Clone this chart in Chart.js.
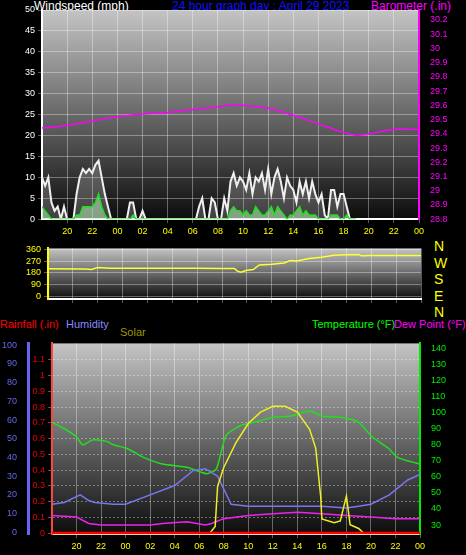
<!DOCTYPE html>
<html>
<head>
<meta charset="utf-8">
<script src="https://cdn.jsdelivr.net/npm/chart.js@4.4.0/dist/chart.umd.min.js"></script>
<style>
body { margin:0; background:#000; width:466px; height:555px; overflow:hidden; position:relative; font-family:"Liberation Sans", Arial, sans-serif; }
canvas { position:absolute; left:0; }
.lbl { position:absolute; font-size:11px; white-space:nowrap; }
</style>
</head>
<body>
<div class="lbl" style="left:34px;top:-1px;color:#fff;font-size:12px">Windspeed (mph)</div>
<div class="lbl" style="left:172px;top:-1px;color:#1010ff;font-size:12px">24 hour graph day : April 29 2023</div>
<div class="lbl" style="left:371px;top:-1px;color:#ff00ff;font-size:12px">Barometer (.in)</div>
<div class="lbl" style="left:0px;top:318px;color:#ff0000">Rainfall (.in)</div>
<div class="lbl" style="left:66px;top:318px;color:#8888ff">Humidity</div>
<div class="lbl" style="left:120px;top:326px;color:#999900">Solar</div>
<div class="lbl" style="left:312px;top:318px;color:#00ff00">Temperature (°F)</div>
<div class="lbl" style="left:394px;top:318px;color:#ff00ff">Dew Point (°F)</div>
<div class="lbl" style="left:434px;top:238px;color:#ffff00;font-size:14px;line-height:16.5px">N<br>W<br>S<br>E<br>N</div>

<canvas id="windChart" width="466" height="240" style="top:0"></canvas>
<canvas id="dirChart" width="466" height="75" style="top:240px"></canvas>
<canvas id="tempChart" width="466" height="220" style="top:335px"></canvas>

<script>
// ----- data (hours since 18:00 on Apr 28) -----
// wind, every 15 minutes from hour 0 to hour 25
const windGust = [10,8,10,4, 2,3,0,3, 0,0,0,6, 10,12,11,12, 11,13,14,10, 6,3,0,0, 0,0,0,0, 4,4,0,0, 2,0,0,0,
  0,0,0,0, 0,0,0,0, 0,0,0,0, 0,0,3,5, 0,0,5,4, 0,0,5,2, 9,11,8,10, 9,7,11,6, 10,9,11,7, 12,6,10,12,
  9,5,10,8, 7,4,9,6, 9,5,9,6, 4,6,1,0, 7,7,3,6, 6,3,0,0, 0];
const windAvg = [3,2,1,0, 0,0,0,0, 0,0,0,1, 1,3,3,3, 3,4,6,3, 1,0,0,0, 0,0,0,0, 0,1,0,0, 0,0,0,0,
  0,0,0,0, 0,0,0,0, 0,0,0,0, 0,0,0,0, 0,0,0,0, 0,0,0,0, 2,3,2,2, 1,2,1,1, 3,2,1,1, 2,3,1,3,
  2,1,0,1, 1,2,3,1, 2,1,1,1, 0,0,0,0, 1,1,1,0, 0,1,0,0, 0];

const baroHours = [0,2,4,6,8,10,12,14,15,16,18,20,22,24,25,26,28,30];
const baroValues = [29.44,29.46,29.49,29.52,29.54,29.55,29.57,29.59,29.60,29.60,29.58,29.53,29.47,29.41,29.39,29.40,29.43,29.43];

const dirHours = [0,3,3.5,4,5,6,8,10,12,14,15,15.2,15.5,16,16.5,17,18,19,19.5,20,21,22,23,24,25,25.2,26,28,30];
const dirValues = [212,210,205,220,215,215,215,215,215,213,213,195,185,200,205,240,245,255,275,270,290,300,315,318,320,310,312,312,312];

const tempHours = [0,1,2,2.5,3.3,4.5,5,6,6.8,7.5,9,11,12.6,13.4,14.2,15.4,17,17.9,19.5,21,22,23.7,25,26.1,27.4,28.2,30];
const tempValues = [94,90,85,80,83,82,80,78,75,72,68,66,62,65,86,92,95,97,98,101,98,97,94,85,78,72,68];

const humHours = [0,1,2.3,3,3.5,5,6,8,10,11.5,12.5,13.5,14.6,16,18,20,22,24,25,26,27.5,29,30];
const humValues = [15,16,20,17,16,15,15,20,25,33,34,30,15,14,14,14,14,13,14,15,20,28,31];

const dewHours = [0,2,3,4,6,8,9,11,12.5,13,14,16,18,20,22,24,26,28,30];
const dewValues = [36,35,31,30,30,30,31,32,30,31,34,36,37,38,37,36,35,34,34];

const solarHours = [0,12.8,13.3,13.5,14,15,16,17,18,19,20,21,21.5,21.9,22,23,23.5,24,24.3,25,25.5,30];
const solarValues = [0,0,4,25,35,48,58,64,67,67,64,55,45,20,8,6,7,20,5,3,0,0];

const rainHours = [0,30];
const rainValues = [0,0];

const hourTicks = [2,4,6,8,10,12,14,16,18,20,22,24,26,28,30];

// ----- helpers -----
const pts = (xs, ys) => xs.map((x, i) => ({ x: x, y: ys[i] }));
const quarter = ys => ys.map((y, i) => ({ x: i / 4, y: y }));
const hourLabel = v => String((v + 18) % 24).padStart(2, "0");
const grid = { color: "rgba(255,255,255,0.35)", borderDash: [1, 2], tickLength: 4 };
const font = { family: "Liberation Sans", size: 9 };
const fixTicks = list => s => { s.ticks = list.map(v => ({ value: v })); };

const bgPlugin = {
    id: "bg",
    beforeDraw(chart) {
        const a = chart.chartArea, ctx = chart.ctx;
        const g = ctx.createLinearGradient(0, a.top, 0, a.bottom);
        g.addColorStop(0, "#c4c4c4");
        g.addColorStop(1, "#0c0c0c");
        ctx.save();
        ctx.fillStyle = g;
        ctx.fillRect(a.left, a.top, a.right - a.left, a.bottom - a.top);
        ctx.restore();
    }
};

function xAxis(show) {
    return {
        type: "linear", min: 0, max: 30,
        afterBuildTicks: fixTicks(hourTicks),
        ticks: { display: show, color: "#ffff00", font: font, maxRotation: 0, autoSkip: false, callback: hourLabel },
        grid: grid, border: { color: "#ffffff", width: 2 }
    };
}
const fixW = w => s => { s.width = w; };
const base = (pad) => ({
    responsive: false, animation: false,
    layout: { padding: pad },
    plugins: { legend: { display: false }, tooltip: { enabled: false } },
    elements: { point: { radius: 0 }, line: { tension: 0 } }
});

// ----- wind + barometer -----
new Chart(document.getElementById("windChart"), {
    type: "line",
    data: { datasets: [
        { data: pts(baroHours, baroValues), yAxisID: "baro", borderColor: "#ff00ff", borderWidth: 1.5, tension: 0.4 },
        { data: quarter(windAvg), yAxisID: "wind", borderColor: "#22dd22", borderWidth: 1.5, fill: "origin", backgroundColor: "rgba(190,240,190,0.55)" },
        { data: quarter(windGust), yAxisID: "wind", borderColor: "#f0f0f0", borderWidth: 2, fill: "origin", backgroundColor: "rgba(220,220,220,0.25)" }
    ]},
    options: Object.assign(base({ top: 10 }), {
        scales: {
            x: xAxis(true),
            wind: { position: "left", min: 0, max: 50, afterFit: fixW(42),
                ticks: { stepSize: 5, color: "#ffffff", font: font, autoSkip: false }, grid: grid, border: { color: "#ffffff", width: 2 } },
            baro: { position: "right", min: 28.8, max: 30.27, afterFit: fixW(47),
                afterBuildTicks: fixTicks([28.8,28.9,29,29.1,29.2,29.3,29.4,29.5,29.6,29.7,29.8,29.9,30,30.1,30.2]),
                ticks: { color: "#ff00ff", font: font, autoSkip: false, callback: v => +v.toFixed(1) },
                grid: { display: false }, border: { color: "#ff00ff", width: 2 } }
        }
    }),
    plugins: [bgPlugin]
});

// ----- wind direction -----
new Chart(document.getElementById("dirChart"), {
    type: "line",
    data: { datasets: [
        { data: pts(dirHours, dirValues), borderColor: "#ffff33", borderWidth: 1.5 }
    ]},
    options: Object.assign(base({ top: 5, bottom: 12, right: 45 }), {
        scales: {
            x: xAxis(false),
            y: { min: -20, max: 367, afterFit: fixW(48),
                afterBuildTicks: fixTicks([0,90,180,270,360]),
                ticks: { color: "#ffff00", font: font, autoSkip: false }, grid: grid, border: { color: "#ffff00", width: 2 } }
        }
    }),
    plugins: [bgPlugin]
});

// ----- temperature / humidity / rain / solar -----
new Chart(document.getElementById("tempChart"), {
    type: "line",
    data: { datasets: [
        { data: pts(rainHours, rainValues), yAxisID: "rain", borderColor: "#ff0000", borderWidth: 3 },
        { data: pts(solarHours, solarValues), yAxisID: "solar", borderColor: "#eeee22", borderWidth: 1.5 },
        { data: pts(humHours, humValues), yAxisID: "hum", borderColor: "#7777ee", borderWidth: 1.5 },
        { data: pts(dewHours, dewValues), yAxisID: "temp", borderColor: "#ee22ee", borderWidth: 1.5 },
        { data: pts(tempHours, tempValues), yAxisID: "temp", borderColor: "#22dd22", borderWidth: 1.5, tension: 0.2 }
    ]},
    options: Object.assign(base({ top: 5 }), {
        scales: {
            x: xAxis(true),
            rain: { position: "left", weight: 0, min: -0.006, max: 1.204, afterFit: fixW(24),
                afterBuildTicks: fixTicks([0,0.1,0.2,0.3,0.4,0.5,0.6,0.7,0.8,0.9,1,1.1]),
                ticks: { color: "#ee0000", font: font, autoSkip: false, callback: v => +v.toFixed(1) },
                grid: grid, border: { color: "#ff4444", width: 2, dash: [2, 2] } },
            hum: { position: "left", weight: 1, min: -1, max: 101, afterFit: fixW(28),
                afterBuildTicks: fixTicks([0,10,20,30,40,50,60,70,80,90,100]),
                ticks: { color: "#6666ee", font: font, autoSkip: false },
                grid: { display: false }, border: { color: "#6666ee", width: 3 } },
            solar: { display: false, min: 0, max: 100 },
            temp: { position: "right", min: 24.3, max: 143.2, afterFit: fixW(46),
                afterBuildTicks: fixTicks([30,40,50,60,70,80,90,100,110,120,130,140]),
                ticks: { color: "#00ee00", font: font, autoSkip: false },
                grid: { display: false }, border: { color: "#00ee00", width: 2 } }
        }
    }),
    plugins: [bgPlugin]
});
</script>
</body>
</html>
